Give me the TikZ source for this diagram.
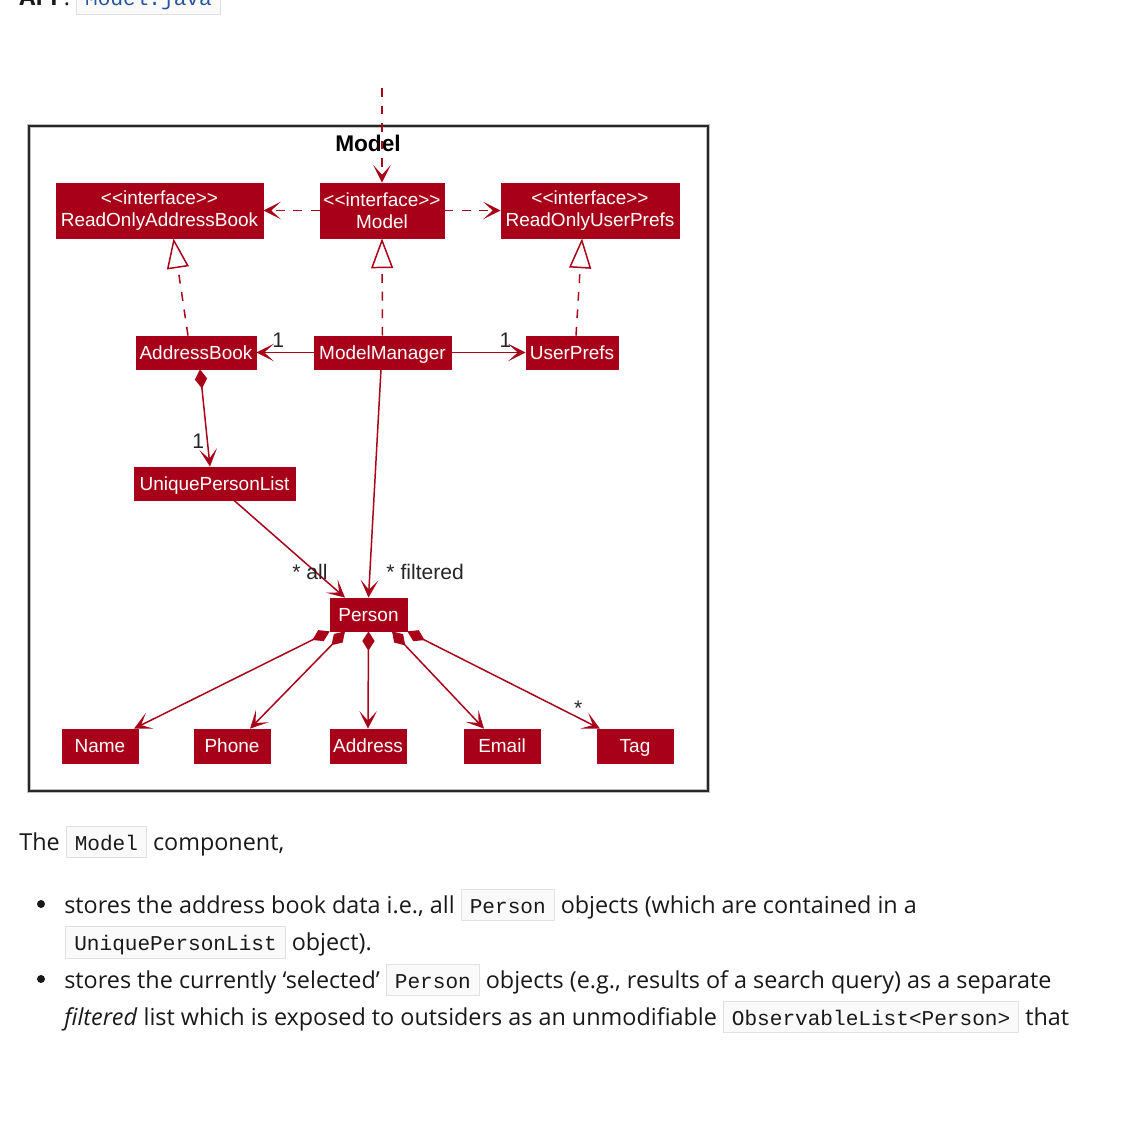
\documentclass[tikz,border=0pt]{standalone}
\usepackage{fontspec}
\usepackage{tikz}
\usetikzlibrary{arrows.meta, calc, positioning}
\setmainfont{Open Sans}
\newfontfamily\umlfont{Liberation Sans}
\newfontfamily\codefont{Liberation Mono}
\definecolor{modelred}{RGB}{168,0,24}
\definecolor{codeblue}{RGB}{38,84,160}
\definecolor{codeline}{RGB}{225,225,225}
\definecolor{codebg}{RGB}{250,250,250}
\newcommand{\pxu}{0.02cm}
\newcommand{\code}[1]{{\setlength{\fboxsep}{2pt}\setlength{\fboxrule}{0.6pt}\fcolorbox{codeline}{codebg}{\rule[-1.9pt]{0pt}{12.9pt}\hspace{2.5pt}\codefont\fontsize{12}{14}\selectfont #1\hspace{2.5pt}}}}

\begin{document}
\begin{tikzpicture}[x=0.02cm, y=-0.02cm,
  cls/.style={fill=modelred, draw=modelred, text=white, inner sep=0pt, align=center, font=\umlfont\fontsize{10.8}{12.5}\selectfont},
  single/.style={cls, text height=9pt, text depth=1.3pt},
  lbl/.style={font=\umlfont\fontsize{12}{14}\selectfont, inner sep=1pt, text=black!85},
  link/.style={draw=modelred, line width=0.85pt},
  head/.style={-{Stealth[length=10pt, width=10pt, inset=5.5pt]}},
  dep/.style={link, dash pattern=on 5pt off 5pt, head},
  impl/.style={link, dash pattern=on 5pt off 5pt, -{Triangle[open, fill=white, length=17pt, width=12.5pt]}},
  assoc/.style={link, head},
  comp/.style={link, {Diamond[length=11pt, width=7pt]}-{Stealth[length=10pt, width=10pt, inset=5.5pt]}},
  txt/.style={anchor=base west, inner sep=0pt, font=\fontsize{13.3}{16}\selectfont, text=black!90},
  dot/.style={circle, fill=black!90, inner sep=0pt, minimum size=8*\pxu}
]
\useasboundingbox (0,0) rectangle (1130,1122);

% heading cut at the top
\node[txt] (api) at (19,6) {\textbf{API} : \code{\color{codeblue}Model.java}};

% package frame
\draw[black!25, line width=2pt] (29,126) rectangle (708,791);
\draw[black!85, line width=1.1pt] (29,126) rectangle (708,791);
\node[font=\umlfont\bfseries\fontsize{12.9}{15}\selectfont] (title) at (368,143) {Model};

% interfaces
\node[cls, minimum width=207*\pxu, minimum height=55*\pxu] (roab) at (159.5,210.5) {<{}<interface>{}>\\ReadOnlyAddressBook};
\node[cls, minimum width=124*\pxu, minimum height=55*\pxu] (model) at (382,210.5) {<{}<interface>{}>\\Model};
\node[cls, minimum width=178*\pxu, minimum height=55*\pxu] (roup) at (590,210.5) {<{}<interface>{}>\\ReadOnlyUserPrefs};

% classes
\node[single, minimum width=120*\pxu, minimum height=33*\pxu] (ab) at (196,352.5) {AddressBook};
\node[single, minimum width=137*\pxu, minimum height=33*\pxu] (mm) at (382.5,352.5) {ModelManager};
\node[single, minimum width=92*\pxu, minimum height=33*\pxu] (up) at (572,352.5) {UserPrefs};
\node[single, minimum width=161*\pxu, minimum height=33*\pxu] (upl) at (214.5,483.5) {UniquePersonList};
\node[single, minimum width=77*\pxu, minimum height=33*\pxu] (person) at (368.5,614.5) {Person};
\node[single, minimum width=76*\pxu, minimum height=34*\pxu] (name) at (100,746) {Name};
\node[single, minimum width=76*\pxu, minimum height=34*\pxu] (phone) at (232,746) {Phone};
\node[single, minimum width=76*\pxu, minimum height=34*\pxu] (address) at (368,746) {Address};
\node[single, minimum width=76*\pxu, minimum height=34*\pxu] (email) at (502,746) {Email};
\node[single, minimum width=76*\pxu, minimum height=34*\pxu] (tag) at (635,746) {Tag};

% dependencies
\coordinate (entry) at (382,88);
\draw[dep] (entry) -- (model.north);
\draw[dep] (model.west) -- (roab.east);
\draw[dep] (model.east) -- (roup.west);

% realisations
\draw[impl] (mm.north) -- (model.south);
\draw[impl] ($(ab.north)+(-8,0)$) -- ($(roab.south)+(14,0)$);
\draw[impl] ($(up.north)+(4,0)$) -- ($(roup.south)+(-8,0)$);

% associations
\draw[assoc] (mm.west) -- (ab.east) node[lbl, pos=0.62, above=1.5pt] {1};
\draw[assoc] (mm.east) -- (up.west) node[lbl, pos=0.73, above=1.5pt] {1};
\draw[comp] ($(ab.south)+(4,0)$) -- ($(upl.north)+(-4.5,0)$) node[lbl, pos=0.74, left=0.5pt] {1};
\draw[assoc] ($(upl.south)+(19.5,0)$) -- ($(person.north)+(-23.5,0)$) node[lbl, pos=0.735, xshift=-3.2pt] {* all};
\draw[assoc] ($(mm.south)+(-1.5,0)$) -- (person.north) node[lbl, pos=0.886, right=8pt] {* filtered};

% compositions of Person
\draw[comp] (person.south west) -- ($(name.north)+(34,0)$);
\draw[comp] ($(person.south)+(-23.5,0)$) -- ($(phone.north)+(18,0)$);
\draw[comp] (person.south) -- (address.north);
\draw[comp] ($(person.south)+(23.5,0)$) -- ($(email.north)+(-18,0)$);
\draw[comp] (person.south east) -- ($(tag.north)+(-35,0)$) node[lbl, pos=0.887, above=0pt] {*};

% text below
\node[txt] (intro) at (19,850) {The \code{Model} component,};
\node[dot] (dot1) at (41,904) {};
\node[txt] (l1) at (64,913) {stores the address book data i.e., all \code{Person} objects (which are contained in a};
\node[txt] (l2) at (65,950) {\code{UniquePersonList} object).};
\node[dot] (dot2) at (41,979) {};
\node[txt] (l3) at (64,988) {stores the currently ‘selected’ \code{Person} objects (e.g., results of a search query) as a separate};
\node[txt] (l4) at (64,1025) {\textit{filtered} list which is exposed to outsiders as an unmodifiable \code{ObservableList<Person>} that};
\end{tikzpicture}
\end{document}
